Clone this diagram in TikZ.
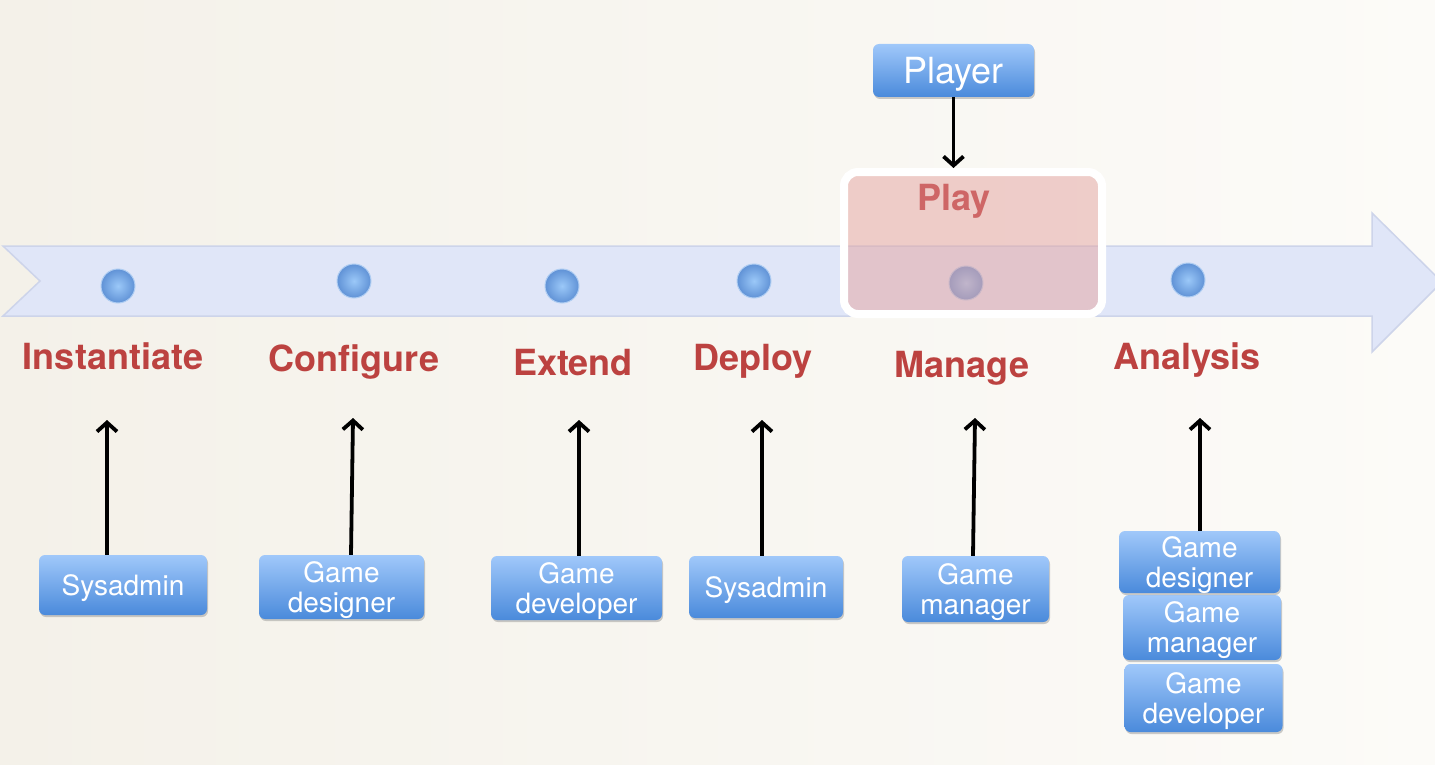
\documentclass[tikz,border=0pt]{standalone}
\usepackage{fontspec}
\setmainfont{TeX Gyre Heros}
\usetikzlibrary{arrows.meta,shadows}
\definecolor{lblred}{RGB}{188,66,64}
\definecolor{playred}{RGB}{206,102,102}
\definecolor{boxtop}{RGB}{160,200,250}
\definecolor{boxbot}{RGB}{74,138,219}
\definecolor{bandfill}{RGB}{224,230,248}
\definecolor{bandline}{RGB}{205,212,234}
\definecolor{pinkfill}{RGB}{228,165,162}
\definecolor{dotin}{RGB}{155,200,248}
\definecolor{dotout}{RGB}{96,146,214}
\definecolor{dotrim}{RGB}{175,205,242}
\definecolor{bgleft}{RGB}{244,241,233}
\definecolor{bgright}{RGB}{252,251,248}
\tikzset{
  rolebox/.style={rectangle, rounded corners=6pt, top color=boxtop, bottom color=boxbot,
    draw=none, text=white, align=center, inner sep=0pt, text depth=0pt,
    font=\fontsize{28}{30}\selectfont,
    drop shadow={shadow xshift=1pt, shadow yshift=-2pt, opacity=0.4}},
  phase/.style={text=lblred, font=\fontsize{36}{40}\selectfont\bfseries, anchor=base},
  arr/.style={line width=3.8pt, -{Straight Barb[length=9pt,width=20pt]}},
  dot/.style={circle, minimum size=34pt, inner sep=0pt, draw=dotrim, line width=1pt,
    inner color=dotin, outer color=dotout}
}
\begin{document}
\begin{tikzpicture}[x=1pt,y=-1pt]
\useasboundingbox (0,0) rectangle (1435,765);
\shade[left color=bgleft, right color=bgright] (0,0) rectangle (1435,765);
% band arrow
\filldraw[fill=bandfill, draw=bandline, line width=1.5pt]
  (3,246) -- (1372,246) -- (1372,213) -- (1442,282) -- (1372,352) -- (1372,316) -- (3,316) -- (40,281) -- cycle;
% dots
\node[dot] (d1) at (118,286) {};
\node[dot] (d2) at (354,281) {};
\node[dot] (d3) at (562,286) {};
\node[dot] (d4) at (754,281) {};
\node[dot] (d5) at (966,283) {};
\node[dot] (d6) at (1188,280) {};
% Play box and label
\node[rectangle, rounded corners=14pt, minimum width=258pt, minimum height=142pt, inner sep=0pt,
  draw=white, line width=8pt, fill=pinkfill, fill opacity=0.52] (playbox) at (973,243) {};
\node[text=playred, font=\fontsize{36}{40}\selectfont\bfseries, anchor=base] (playlbl) at (954,210) {Play};
% phase labels
\node[phase] (l1) at (113,369) {Instantiate};
\node[phase] (l2) at (354,371) {Configure};
\node[phase] (l3) at (573,375) {Extend};
\node[phase] (l4) at (753,370) {Deploy};
\node[phase] (l5) at (962,377) {Manage};
\node[phase] (l6) at (1187,369) {Analysis};
% Player
\node[rolebox, minimum width=161pt, minimum height=53pt, font=\fontsize{36}{40}\selectfont] (player) at (953.5,70.5) {Player};
% role boxes
\node[rolebox, minimum width=168pt, minimum height=60pt] (b1) at (123,585) {Sysadmin};
\node[rolebox, minimum width=165pt, minimum height=64pt] (b2) at (341.5,587) {Game\\designer};
\node[rolebox, minimum width=171pt, minimum height=64pt] (b3) at (576.5,588) {Game\\developer};
\node[rolebox, minimum width=154pt, minimum height=62pt] (b4) at (766,587) {Sysadmin};
\node[rolebox, minimum width=147pt, minimum height=66pt] (b5) at (975.5,589) {Game\\manager};
\node[rolebox, minimum width=158pt, minimum height=68pt] (b8) at (1203.5,698) {Game\\developer};
\node[rolebox, minimum width=158pt, minimum height=65pt] (b7) at (1202,627.5) {Game\\manager};
\node[rolebox, minimum width=161pt, minimum height=62pt] (b6) at (1199.5,562) {Game\\designer};
% arrow tips
\coordinate (t1) at (107,420);
\coordinate (t2) at (353,418);
\coordinate (t3) at (579,420);
\coordinate (t4) at (762,420);
\coordinate (t5) at (975,418);
\coordinate (t6) at (1200,418);
\draw[arr] ([xshift=-16pt]b1.north) -- (t1);
\draw[arr] ([xshift=9.5pt]b2.north) -- (t2);
\draw[arr] ([xshift=2.5pt]b3.north) -- (t3);
\draw[arr] ([xshift=-4pt]b4.north) -- (t4);
\draw[arr] ([xshift=-2.5pt]b5.north) -- (t5);
\draw[arr] ([xshift=0.5pt]b6.north) -- (t6);
\draw[arr] (player.south) -- (player.south |- playbox.north);
\end{tikzpicture}
\end{document}
